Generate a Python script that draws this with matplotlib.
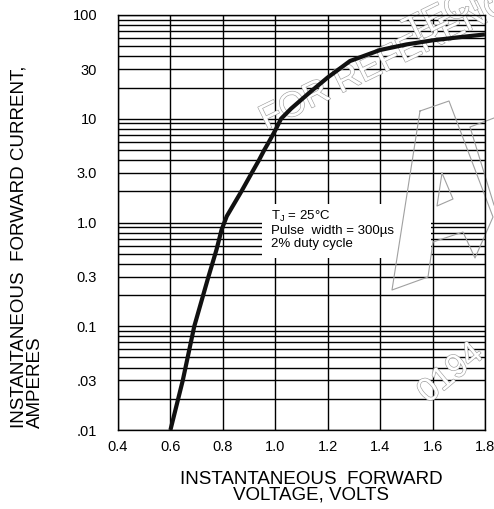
import matplotlib
matplotlib.use('Agg')
import matplotlib.pyplot as plt
import matplotlib.patheffects as pe
from matplotlib.patches import Rectangle
from matplotlib.ticker import LogLocator, NullFormatter

plt.rcParams['font.family'] = ['Liberation Sans', 'DejaVu Sans']
plt.rcParams['mathtext.fontset'] = 'custom'
plt.rcParams['mathtext.rm'] = 'Liberation Sans'

# forward voltage (V) vs forward current (A)
voltage = [0.600, 0.647, 0.691, 0.745, 0.776, 0.795, 0.815, 0.871, 0.910, 0.938, 0.958,
           0.976, 1.003, 1.022, 1.06, 1.132, 1.20, 1.285, 1.40, 1.50, 1.60, 1.70, 1.80]
current = [0.01, 0.03, 0.1, 0.3, 0.55, 0.85, 1.15, 2.0, 3.0, 4.0, 5.0,
           6.0, 8.0, 10.0, 12.5, 18.0, 25.0, 36.0, 46.0, 52.0, 57.0, 61.0, 65.0]

x_ticks = [0.4, 0.6, 0.8, 1.0, 1.2, 1.4, 1.6, 1.8]
x_labels = ['0.4', '0.6', '0.8', '1.0', '1.2', '1.4', '1.6', '1.8']
y_ticks = [0.01, 0.03, 0.1, 0.3, 1.0, 3.0, 10, 30, 100]
y_labels = ['.01', '.03', '0.1', '0.3', '1.0', '3.0', '10', '30', '100']

note = 'T$_\\mathregular{J}$ = 25°C\nPulse  width = 300µs\n2% duty cycle'

# watermark outline (pixel coords of the faint logo)
logo_px = [(420, 111), (449, 101), (493, 217), (475, 258), (463, 232),
           (433, 242), (428, 277), (392, 290), (420, 111)]
logo_inner_px = [(442, 173), (453, 199), (437, 206), (442, 173)]
logo_side_px = [(494, 118), (470, 127), (494, 205)]

W, H = 494, 509
fig = plt.figure(figsize=(W / 100, H / 100), dpi=100)
ax = fig.add_axes([118 / W, 1 - 430 / H, 367 / W, 415 / H])

ax.set_yscale('log')
ax.set_xlim(0.4, 1.8)
ax.set_ylim(0.01, 100)

ax.set_xticks(x_ticks)
ax.set_xticklabels(x_labels, fontsize=10.5)
ax.set_yticks(y_ticks)
ax.set_yticklabels(y_labels, fontsize=10.5)
ax.yaxis.set_minor_locator(LogLocator(base=10, subs=range(2, 10), numticks=20))
ax.yaxis.set_minor_formatter(NullFormatter())
ax.tick_params(which='both', length=0)
ax.tick_params(axis='y', pad=15)
ax.tick_params(axis='x', pad=7)

ax.set_axisbelow(True)
ax.grid(True, which='major', axis='x', color='black', lw=1.0)
ax.grid(True, which='minor', axis='y', color='black', lw=1.0)
ax.grid(True, which='major', axis='y', color='black', lw=1.0)
for s in ax.spines.values():
    s.set_linewidth(1.0)

# blank area behind the note
ax.add_patch(Rectangle((0.95, 0.45), 0.645, 1.05, facecolor='white',
                       edgecolor='none', zorder=1))
ax.text(0.985, 1.36, note, fontsize=9.5, va='top', ha='left',
        linespacing=1.15, zorder=4)

ax.plot(voltage, current, color='#111111', lw=3.0, solid_capstyle='butt',
        solid_joinstyle='round', zorder=3)

# axis titles
fig.text(27 / W, 1 - 428 / H, 'INSTANTANEOUS  FORWARD CURRENT,\nAMPERES',
         rotation=90, ha='center', va='bottom', multialignment='left',
         fontsize=13.5, linespacing=0.95)
fig.text(311 / W, 1 - 471 / H, 'INSTANTANEOUS  FORWARD\nVOLTAGE, VOLTS',
         ha='center', va='top', fontsize=13.5, linespacing=0.85)

# watermark, under the curve but over the grid
outline = [pe.withStroke(linewidth=0.9, foreground='#a0a0a0')]
wm = dict(rotation_mode='anchor', ha='left', va='baseline', color='white',
          path_effects=outline, zorder=2, transform=fig.transFigure, clip_on=False)
ax.text(266 / W, 1 - 130 / H, 'FOR REFERENCE', fontsize=25, rotation=26, **wm)
ax.text(410 / W, 1 - 42 / H, 'TECHNICAL', fontsize=25, rotation=26, **wm)
ax.text(428 / W, 1 - 404 / H, '0194', fontsize=24, rotation=40, **wm)
for pts in (logo_px, logo_inner_px, logo_side_px):
    ax.plot([p[0] / W for p in pts], [1 - p[1] / H for p in pts],
            color='#a0a0a0', lw=0.8, zorder=2, transform=fig.transFigure,
            clip_on=False)

fig.savefig('out.png', dpi=100)
